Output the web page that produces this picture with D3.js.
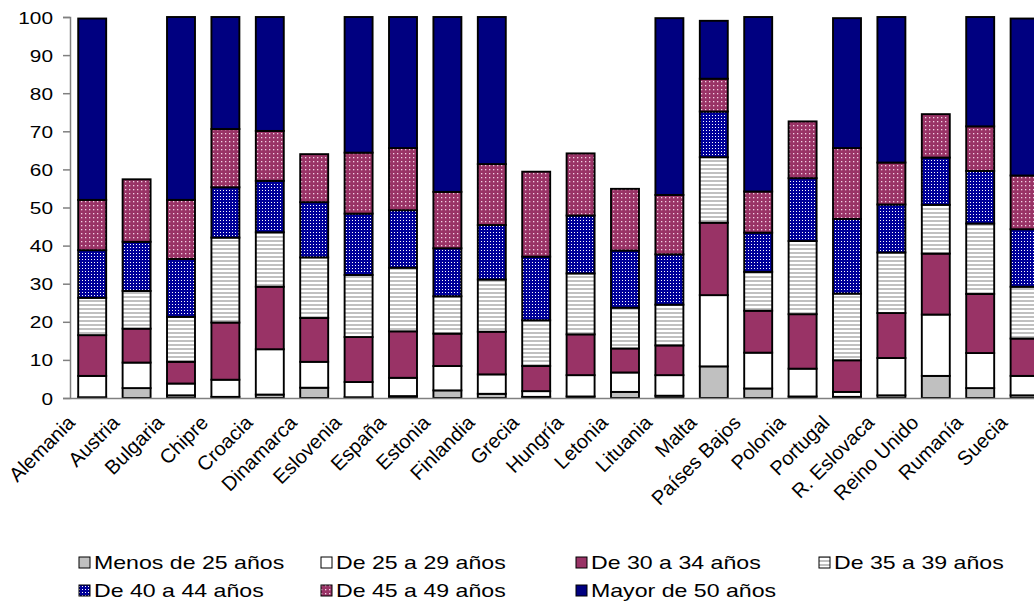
<!DOCTYPE html>
<html><head><meta charset="utf-8">
<script src="https://cdn.jsdelivr.net/npm/d3@7"></script>
<style>
html,body{margin:0;padding:0;background:#fff;}
svg{display:block;font-family:"Liberation Sans",Arial,sans-serif;}
</style></head>
<body>
<svg id="chart" width="1034" height="607"></svg>
<script>
const categories = ["Alemania","Austria","Bulgaria","Chipre","Croacia","Dinamarca","Eslovenia","España","Estonia","Finlandia","Grecia","Hungría","Letonia","Lituania","Malta","Países Bajos","Polonia","Portugal","R. Eslovaca","Reino Unido","Rumanía","Suecia"];
const seriesNames = ["Menos de 25 años","De 25 a 29 años","De 30 a 34 años","De 35 a 39 años","De 40 a 44 años","De 45 a 49 años","Mayor de 50 años"];
const menos25 = [0.2,2.6,0.7,0.3,0.9,2.7,0.2,0.5,2.0,1.1,0.3,0.4,1.6,0.6,8.3,2.5,0.4,0.3,0.7,5.8,2.6,0.7];
const de25a29 = [5.6,6.7,3.1,4.5,11.9,6.8,4.0,4.8,6.4,5.1,1.5,5.6,5.1,5.4,18.7,9.4,7.3,1.3,9.8,16.1,9.2,5.1];
const de30a34 = [10.7,8.9,5.7,15.0,16.4,11.5,11.8,12.2,8.5,11.2,6.6,10.7,6.3,7.8,19.0,11.0,14.3,8.3,11.8,16.0,15.5,9.8];
const de35a39 = [9.8,9.9,11.8,22.3,14.3,15.9,16.3,16.7,9.8,13.7,12.0,16.0,10.7,10.7,17.2,10.2,19.2,17.5,15.9,12.8,18.5,13.6];
const de40a44 = [12.5,12.9,15.2,13.2,13.5,14.5,16.1,15.1,12.6,14.3,16.7,15.2,15.0,13.2,12.0,10.3,16.5,19.6,12.6,12.4,13.8,15.1];
const de45a49 = [13.2,16.4,15.5,15.3,13.1,12.6,16.0,16.3,14.8,16.0,22.3,16.3,16.2,15.6,8.6,10.8,14.9,18.6,11.0,11.4,11.7,14.1];
const mayor50 = [47.6,0,48.0,29.4,29.9,0,35.6,34.4,45.9,38.6,0,0,0,46.4,15.2,45.8,0,34.1,38.2,0,28.7,41.2];
const yTicks = [0,10,20,30,40,50,60,70,80,90,100];

const seriesValues = [menos25,de25a29,de30a34,de35a39,de40a44,de45a49,mayor50];
const keys = seriesNames;
const rows = categories.map((c,i)=>{const o={cat:c}; keys.forEach((k,j)=>o[k]=seriesValues[j][i]); return o;});

const svg = d3.select("#chart");
const defs = svg.append("defs");

// patterns
const pStripe = defs.append("pattern").attr("id","pStripe").attr("patternUnits","userSpaceOnUse").attr("width",4).attr("height",4);
pStripe.append("rect").attr("width",4).attr("height",4).attr("fill","#ffffff");
pStripe.append("rect").attr("width",4).attr("height",2).attr("fill","#c0c0c0");

const pBlue = defs.append("pattern").attr("id","pBlue").attr("patternUnits","userSpaceOnUse").attr("width",3).attr("height",3);
pBlue.append("rect").attr("width",3).attr("height",3).attr("fill","#000099");
pBlue.append("rect").attr("x",1).attr("y",1).attr("width",1).attr("height",1).attr("fill","#ffffff");

const pPink = defs.append("pattern").attr("id","pPink").attr("patternUnits","userSpaceOnUse").attr("width",4).attr("height",4);
pPink.append("rect").attr("width",4).attr("height",4).attr("fill","#993366");
pPink.append("rect").attr("x",1).attr("y",1).attr("width",1.3).attr("height",1.3).attr("fill","#f4d0e4");

const fills = ["#c0c0c0","#ffffff","#993366","url(#pStripe)","url(#pBlue)","url(#pPink)","#000080"];

const x = d3.scaleBand().domain(categories).range([70, 1046.8]).paddingInner(0.37).paddingOuter(0.185);
const y = d3.scaleLinear().domain([0,100]).range([398,17]);

const stack = d3.stack().keys(keys);
const stacked = stack(rows);

const g = svg.append("g");
stacked.forEach((layer,li)=>{
  g.selectAll(null).data(layer.filter(d=>d[1]-d[0]>0)).enter().append("rect")
    .attr("x", d=>x(d.data.cat))
    .attr("width", x.bandwidth())
    .attr("y", d=>y(d[1]))
    .attr("height", d=>y(d[0])-y(d[1]))
    .attr("fill", fills[li])
    .attr("stroke","#000")
    .attr("stroke-width",1.9);
});

// y axis
const yAxis = d3.axisLeft(y).tickValues(yTicks).tickSize(7).tickPadding(0).tickFormat(d3.format("d"));
const ya = svg.append("g").attr("transform","translate(70,0)").call(yAxis);
ya.select(".domain").attr("stroke","#808080").attr("stroke-width",1.5);
ya.selectAll(".tick line").attr("stroke","#808080").attr("stroke-width",1.5);
ya.selectAll(".tick text").remove();
ya.selectAll(".tick").append("text")
  .attr("text-anchor","end")
  .attr("transform","translate(-17,6) scale(1.3,1)")
  .attr("font-size",16).attr("fill","#000")
  .text(d=>d);

// x axis
const xAxis = d3.axisBottom(x).tickSize(0).tickFormat("");
const xa = svg.append("g").attr("transform","translate(0,398)").call(xAxis);
xa.select(".domain").attr("stroke","#808080").attr("stroke-width",1.5);
xa.selectAll(".tick text").remove();
svg.append("g").selectAll("text").data(categories).enter().append("text")
  .attr("transform", d=>`translate(${x(d)+x.bandwidth()/2-16},${424}) rotate(-45)`)
  .attr("text-anchor","end")
  .attr("font-size",20).attr("fill","#000")
  .text(d=>d);

// legend
const colX = [79, 321, 576, 819];
const legend = svg.append("g");
seriesNames.forEach((name,i)=>{
  const col = i<4 ? i : i-4;
  const row = i<4 ? 0 : 1;
  const lx = colX[col], by = row===0 ? 569 : 597;
  legend.append("rect").attr("x",lx).attr("y",by-12).attr("width",11).attr("height",11)
    .attr("fill",fills[i]).attr("stroke","#000").attr("stroke-width",1);
  legend.append("text").attr("transform",`translate(${lx+15},${by}) scale(1.25,1)`)
    .attr("font-size",18.5).attr("fill","#000").text(name);
});
</script>
</body></html>
